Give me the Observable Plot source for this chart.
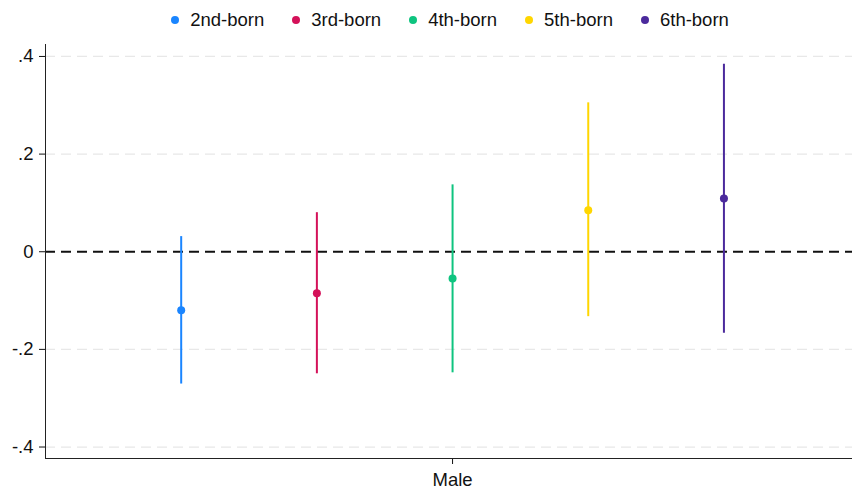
<!DOCTYPE html>
<html>
<head>
<meta charset="utf-8">
<script src="https://cdn.jsdelivr.net/npm/d3@7"></script>
<script src="https://cdn.jsdelivr.net/npm/@observablehq/plot@0.6"></script>
<style>
  body { margin: 0; background: #fff; font-family: "Liberation Sans", Arial, sans-serif; }
  #legend { height: 40px; display: flex; justify-content: center; align-items: center; font-size: 18.5px; color: #111; padding-left: 48px; box-sizing: border-box; }
  .item { display: flex; align-items: center; margin: 0 14px; }
  .dot { width: 8px; height: 8px; border-radius: 50%; margin-right: 11px; }
  svg { display: block; }
</style>
</head>
<body>
<div id="legend"></div>
<div id="chart"></div>
<script>
const series = ["2nd-born", "3rd-born", "4th-born", "5th-born", "6th-born"];
const colors = ["#1a85ff", "#d41159", "#0ec47f", "#ffd600", "#4b2a9c"];
const estimates = [-0.120, -0.085, -0.055, 0.085, 0.109];
const lower = [-0.271, -0.250, -0.248, -0.133, -0.167];
const upper = [0.031, 0.080, 0.137, 0.305, 0.384];
const category = "Male";
const yTicks = [-0.4, -0.2, 0, 0.2, 0.4];

const data = series.map((s, i) => ({
  series: s, est: estimates[i], lo: lower[i], hi: upper[i], x: 1 + (i - 2) * 0.2
}));

const legend = document.getElementById("legend");
series.forEach((s, i) => {
  const it = document.createElement("div");
  it.className = "item";
  it.innerHTML = `<span class="dot" style="background:${colors[i]}"></span><span>${s}</span>`;
  legend.appendChild(it);
});

const fmt = v => Math.abs(v) < 1e-9 ? "0" : v.toFixed(1).replace("0.", ".");

const chart = Plot.plot({
  width: 852,
  height: 449,
  marginLeft: 45,
  marginRight: 0,
  marginTop: 4,
  marginBottom: 31,
  style: { fontFamily: "'Liberation Sans', Arial, sans-serif", fontSize: "18.5px", color: "#111", overflow: "visible" },
  x: { domain: [0.4, 1.5895] },
  y: { domain: [-0.4235, 0.4245] },
  color: { domain: series, range: colors },
  marks: [
    Plot.ruleY(yTicks.filter(v => v !== 0), { stroke: "#e8e8e8", strokeWidth: 1.3, strokeDasharray: "10,6" }),
    Plot.ruleY([0], { stroke: "#111", strokeWidth: 1.8, strokeDasharray: "10,6" }),
    Plot.ruleX(data, { x: "x", y1: "lo", y2: "hi", stroke: "series", strokeWidth: 2 }),
    Plot.dot(data, { x: "x", y: "est", fill: "series", r: 4 }),
    Plot.axisY({ ticks: yTicks, tickFormat: fmt, tickSize: 6, tickPadding: 6, label: null, fontSize: 18.5 }),
    Plot.axisX({ ticks: [1], tickFormat: () => category, tickSize: 6, tickPadding: 8, label: null, fontSize: 18.5 }),
    Plot.ruleX([0.4], { stroke: "#222", strokeWidth: 1 }),
    Plot.ruleY([-0.4235], { stroke: "#222", strokeWidth: 1 })
  ]
});
document.getElementById("chart").appendChild(chart);
</script>
</body>
</html>
